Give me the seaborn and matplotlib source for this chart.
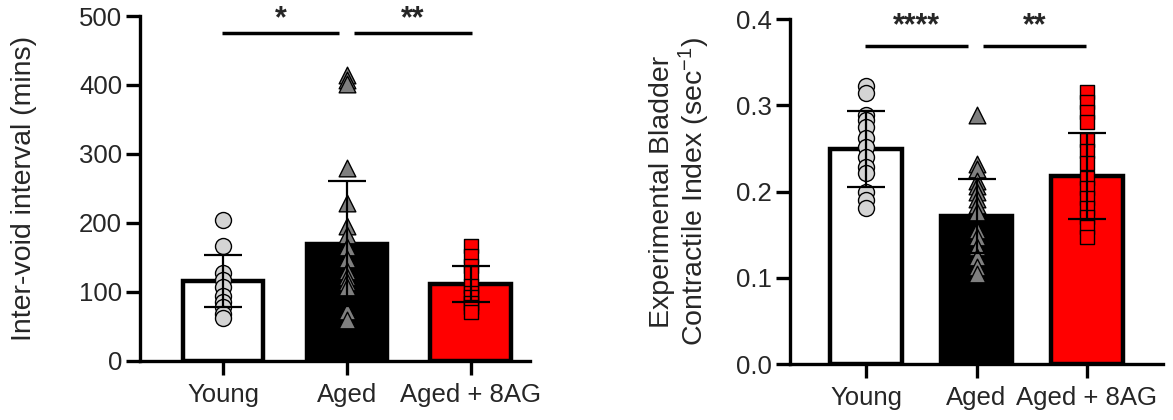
import numpy as np
import matplotlib
matplotlib.use("Agg")
import matplotlib.pyplot as plt
import seaborn as sns

groups = ["Young", "Aged", "Aged + 8AG"]

# inter-void interval (mins)
ivi_young = [204, 167, 128, 118, 107, 94, 86, 78, 68, 62]
ivi_aged = [414, 407, 402, 280, 229, 195, 183, 165, 148, 130, 122, 115, 107, 72, 60]
ivi_8ag = [166, 152, 137, 128, 108, 98, 93, 84, 78, 71]
ivi_mean = [116, 170, 112]
ivi_sd = [38, 91, 26]

# contractile index (sec^-1)
ci_young = [0.322, 0.314, 0.289, 0.283, 0.275, 0.262, 0.252, 0.240, 0.228, 0.222, 0.199, 0.190, 0.181]
ci_aged = [0.289, 0.232, 0.226, 0.212, 0.206, 0.200, 0.191, 0.184, 0.176, 0.155, 0.147, 0.136, 0.124, 0.113, 0.104]
ci_8ag = [0.315, 0.304, 0.292, 0.281, 0.260, 0.247, 0.233, 0.216, 0.204, 0.192, 0.181, 0.170, 0.159, 0.147]
ci_mean = [0.249, 0.172, 0.218]
ci_sd = [0.044, 0.043, 0.050]

bar_colors = ["white", "black", "#ff0000"]
pt_colors = ["#d4d4d4", "#7f7f7f", "#ff0000"]
pt_markers = ["o", "^", "s"]
pt_sizes = [11.5, 12, 9.5]

sns.set_style("ticks")
plt.rcParams["font.family"] = ["Liberation Sans", "DejaVu Sans"]
plt.rcParams["mathtext.fontset"] = "custom"
plt.rcParams["mathtext.rm"] = "Liberation Sans"
plt.rcParams["mathtext.it"] = "Liberation Sans"

fig = plt.figure(figsize=(11.73, 4.2), dpi=100)
ax1 = fig.add_axes([0.1194, 0.1405, 0.3325, 0.8214])
ax2 = fig.add_axes([0.6735, 0.1333, 0.318, 0.8214])


def draw_panel(ax, points, means, sds):
    sns.barplot(x=groups, y=means, hue=groups, palette=bar_colors, legend=False, saturation=1,
                width=0.65, edgecolor="black", linewidth=3.2, errorbar=None, ax=ax, zorder=1)
    for i, vals in enumerate(points):
        sns.stripplot(x=[groups[i]] * len(vals), y=vals, order=groups, jitter=False,
                      marker=pt_markers[i], color=pt_colors[i], edgecolor="black",
                      linewidth=1, size=pt_sizes[i], ax=ax, zorder=3)
    ax.errorbar(x=range(3), y=means, yerr=sds, fmt="none", ecolor="black",
                elinewidth=1.6, capsize=14, capthick=1.6, zorder=5)
    for s in ["top", "right"]:
        ax.spines[s].set_visible(False)
    for s in ["left", "bottom"]:
        ax.spines[s].set_linewidth(2.4)
        ax.spines[s].set_color("black")
    ax.tick_params(axis="both", length=10, width=2.4, color="black", labelsize=18.5, pad=3)
    ax.tick_params(axis="x", pad=6)
    ax.set_xlabel("")


def sig(ax, x0, x1, y, ytxt, label):
    ax.plot([x0, x1], [y, y], color="black", lw=2.5, clip_on=False, solid_capstyle="butt")
    ax.text((x0 + x1) / 2, ytxt, label, ha="center", va="center", fontsize=22,
            fontweight="bold", clip_on=False)


draw_panel(ax1, [ivi_young, ivi_aged, ivi_8ag], ivi_mean, ivi_sd)
ax1.set_xlim(-0.67, 2.48)
ax1.set_ylim(0, 500)
ax1.set_yticks(np.arange(0, 501, 100))
ax1.set_ylabel("Inter-void interval (mins)", fontsize=20.5)
ax1.yaxis.set_label_coords(-0.265, 0.5)
sig(ax1, -0.01, 0.94, 475, 496, "*")
sig(ax1, 1.06, 2.01, 475, 496, "**")

draw_panel(ax2, [ci_young, ci_aged, ci_8ag], ci_mean, ci_sd)
ax2.set_xlim(-0.69, 2.69)
ax2.set_ylim(0, 0.4)
ax2.set_yticks(np.arange(0, 0.41, 0.1))
ax2.yaxis.set_major_formatter(matplotlib.ticker.FormatStrFormatter("%.1f"))
ax2.set_ylabel("Experimental Bladder\nContractile Index (sec$^{-1}$)", fontsize=20.5,
               linespacing=1.05)
ax2.yaxis.set_label_coords(-0.21, 0.5)
sig(ax2, -0.01, 0.92, 0.369, 0.392, "****")
sig(ax2, 1.06, 1.99, 0.369, 0.392, "**")

fig.savefig("out.png", dpi=100)
